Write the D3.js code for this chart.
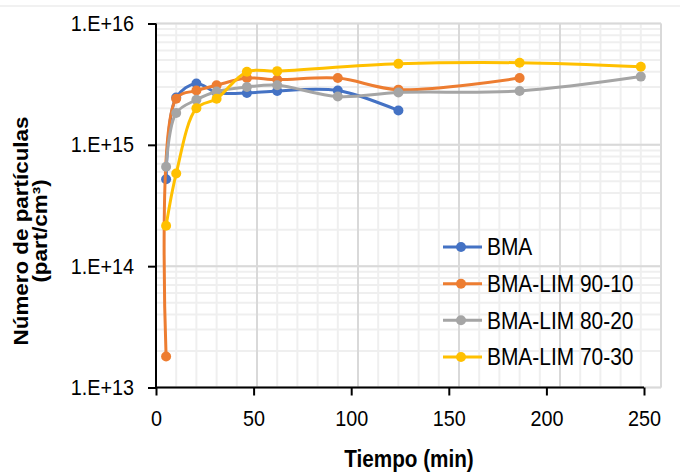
<!DOCTYPE html>
<html>
<head>
<meta charset="utf-8">
<script src="https://cdn.jsdelivr.net/npm/d3@7"></script>
<style>
  html, body { margin: 0; padding: 0; background: #ffffff; }
  svg { display: block; }
  text { font-family: "Liberation Sans", Arial, sans-serif; }
</style>
</head>
<body>
<svg id="chart" width="680" height="472"></svg>
<script>
// ---- data ----
const seriesNames = ["BMA", "BMA-LIM 90-10", "BMA-LIM 80-20", "BMA-LIM 70-30"];
const seriesColors = ["#4472C4", "#ED7D31", "#A5A5A5", "#FFC000"];

const bmaTime = [5, 10, 20, 30, 45, 60, 90, 120];
const bmaValues = [5.2e14, 2.45e15, 3.2e15, 2.7e15, 2.67e15, 2.78e15, 2.8e15, 1.92e15];

const lim9010Time = [5, 10, 20, 30, 45, 60, 90, 120, 180];
const lim9010Values = [1.8e13, 2.4e15, 2.8e15, 3.1e15, 3.55e15, 3.45e15, 3.55e15, 2.85e15, 3.55e15];

const lim8020Time = [5, 10, 20, 30, 45, 60, 90, 120, 180, 240];
const lim8020Values = [6.6e14, 1.83e15, 2.35e15, 2.75e15, 3.0e15, 3.1e15, 2.5e15, 2.7e15, 2.78e15, 3.65e15];

const lim7030Time = [5, 10, 20, 30, 45, 60, 120, 180, 240];
const lim7030Values = [2.15e14, 5.8e14, 2.0e15, 2.4e15, 4.0e15, 4.05e15, 4.65e15, 4.75e15, 4.4e15];

const xTickValues = [0, 50, 100, 150, 200, 250];
const xTickLabels = ["0", "50", "100", "150", "200", "250"];
const yTickValues = [1e13, 1e14, 1e15, 1e16];
const yTickLabels = ["1.E+13", "1.E+14", "1.E+15", "1.E+16"];

const xTitle = "Tiempo (min)";
const yTitleLines = ["Número de partículas", "(part/cm³)"];

// ---- layout ----
const svg = d3.select("#chart");
const pLeft = 156, pRight = 661, pTop = 23.5, pBottom = 387.5;
const axisRight = 644; // the reference's tick row is drawn slightly shorter than its plot area

const x = d3.scaleLinear().domain([0, 250]).range([pLeft, pRight]);
const xAxisScale = d3.scaleLinear().domain([0, 250]).range([pLeft, axisRight]);
const y = d3.scaleLog().domain([1e13, 1e16]).range([pBottom, pTop]);

const series = [
  { name: seriesNames[0], color: seriesColors[0], t: bmaTime, v: bmaValues },
  { name: seriesNames[1], color: seriesColors[1], t: lim9010Time, v: lim9010Values },
  { name: seriesNames[2], color: seriesColors[2], t: lim8020Time, v: lim8020Values },
  { name: seriesNames[3], color: seriesColors[3], t: lim7030Time, v: lim7030Values }
];

// horizontally squeeze a text around its own x anchor
function squeeze(sel, sx) {
  sel.each(function () {
    const t = d3.select(this);
    const x0 = +t.attr("x") || 0;
    t.attr("transform", `translate(${x0 * (1 - sx)},0) scale(${sx},1)`);
  });
}

// faint outer border line at the top of the frame
svg.append("line").attr("x1", 0).attr("x2", 680).attr("y1", 6).attr("y2", 6)
  .attr("stroke", "#e3e3e3").attr("stroke-width", 1);

// ---- grid ----
const grid = svg.append("g");
grid.selectAll("line.vmin").data(x.ticks(25)).enter().append("line")
  .attr("x1", d => x(d)).attr("x2", d => x(d)).attr("y1", pTop).attr("y2", pBottom)
  .attr("stroke", "#efefef").attr("stroke-width", 2);
grid.selectAll("line.hmin").data(y.ticks()).enter().append("line")
  .attr("x1", pLeft).attr("x2", pRight).attr("y1", d => y(d)).attr("y2", d => y(d))
  .attr("stroke", "#efefef").attr("stroke-width", 2);
grid.selectAll("line.vmaj").data(xTickValues.slice(1)).enter().append("line")
  .attr("x1", d => x(d)).attr("x2", d => x(d)).attr("y1", pTop).attr("y2", pBottom)
  .attr("stroke", "#d9d9d9").attr("stroke-width", 2);
grid.selectAll("line.hmaj").data(yTickValues).enter().append("line")
  .attr("x1", pLeft).attr("x2", pRight).attr("y1", d => y(d)).attr("y2", d => y(d))
  .attr("stroke", "#d9d9d9").attr("stroke-width", 2);

// ---- axes ----
const yAxis = svg.append("g").attr("transform", `translate(${pLeft},0)`)
  .call(d3.axisLeft(y).tickValues(yTickValues).tickFormat((d, i) => yTickLabels[i]).tickSize(8).tickPadding(14));
yAxis.select(".domain").attr("stroke", "#000").attr("stroke-width", 2).attr("d", `M0,${pTop}V${pBottom}`);
yAxis.selectAll(".tick line").attr("stroke", "#000").attr("stroke-width", 2);
yAxis.selectAll(".tick text").attr("font-size", 22).attr("fill", "#000")
  .attr("font-family", "Liberation Sans, Arial, sans-serif");
squeeze(yAxis.selectAll(".tick text"), 0.9);

const xAxis = svg.append("g").attr("transform", `translate(0,${pBottom})`)
  .call(d3.axisBottom(xAxisScale).tickValues(xTickValues).tickFormat((d, i) => xTickLabels[i]).tickSize(8).tickPadding(15));
xAxis.select(".domain").attr("stroke", "#000").attr("stroke-width", 2).attr("d", `M${pLeft},0H${axisRight}`);
xAxis.selectAll(".tick line").attr("stroke", "#000").attr("stroke-width", 2);
xAxis.selectAll(".tick text").attr("font-size", 22).attr("fill", "#000")
  .attr("font-family", "Liberation Sans, Arial, sans-serif");
squeeze(xAxis.selectAll(".tick text"), 0.9);

// ---- lines ----
const line = d3.line()
  .x(d => x(d[0])).y(d => y(d[1]))
  .curve(d3.curveCatmullRom.alpha(0.5));

series.forEach(s => {
  const pts = s.t.map((t, i) => [t, s.v[i]]);
  const g = svg.append("g");
  g.append("path").datum(pts).attr("d", line)
    .attr("fill", "none").attr("stroke", s.color).attr("stroke-width", 3)
    .attr("stroke-linejoin", "round").attr("stroke-linecap", "round");
  g.selectAll("circle").data(pts).enter().append("circle")
    .attr("cx", d => x(d[0])).attr("cy", d => y(d[1])).attr("r", 5)
    .attr("fill", s.color);
});

// ---- legend ----
const legend = svg.append("g");
const legY = d3.scalePoint().domain(seriesNames).range([247, 357]);
series.forEach(s => {
  const yy = legY(s.name);
  legend.append("line").attr("x1", 443).attr("x2", 482).attr("y1", yy).attr("y2", yy)
    .attr("stroke", s.color).attr("stroke-width", 3);
  legend.append("circle").attr("cx", 461).attr("cy", yy).attr("r", 5).attr("fill", s.color);
  const t = legend.append("text").attr("x", 487).attr("y", yy).attr("dy", "0.36em")
    .attr("font-size", 23).attr("fill", "#000").text(s.name);
  squeeze(t, 0.91);
});

// ---- titles ----
const xt = svg.append("text").attr("x", 409).attr("y", 467)
  .attr("text-anchor", "middle").attr("font-size", 23).attr("font-weight", "bold")
  .attr("fill", "#000").text(xTitle);
squeeze(xt, 0.9);

const yt = svg.append("text")
  .attr("transform", "translate(0,231) rotate(-90) scale(1.12,1)")
  .attr("text-anchor", "middle").attr("font-size", 20).attr("font-weight", "bold").attr("fill", "#000");
yt.append("tspan").attr("x", 0).attr("y", 28).text(yTitleLines[0]);
yt.append("tspan").attr("x", 0).attr("y", 47).text(yTitleLines[1]);
</script>
</body>
</html>
